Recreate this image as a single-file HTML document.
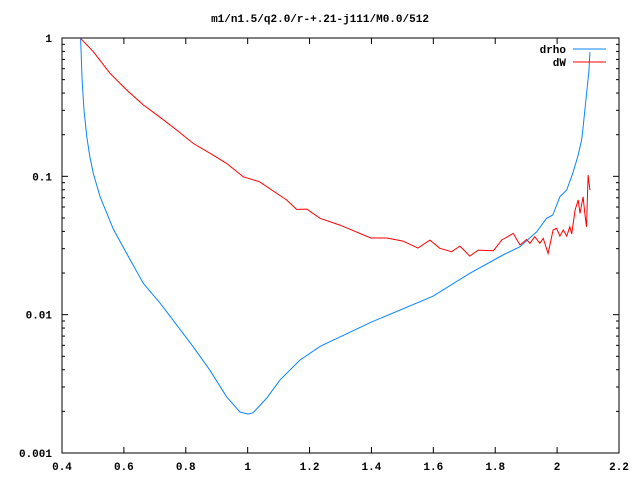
<!DOCTYPE html>
<html><head><meta charset="utf-8"><style>
html,body{margin:0;padding:0;background:#fff}
svg{display:block}
text{font-family:"Liberation Mono",monospace;font-size:11px;font-weight:bold;fill:#000}
</style></head><body>
<svg id="chart" width="640" height="480" viewBox="0 0 640 480" xmlns="http://www.w3.org/2000/svg">
<rect width="640" height="480" fill="#fff"/>
<text x="320" y="22" text-anchor="middle">m1/n1.5/q2.0/r-+.21-j111/M0.0/512</text>
<g id="axes"></g>
<g id="series"></g>
<g>
<text x="566" y="53" text-anchor="end">drho</text>
<line x1="573" y1="49" x2="606" y2="49" stroke="#0a84ff" stroke-width="1"/>
<text x="566" y="66" text-anchor="end">dW</text>
<line x1="573" y1="62" x2="606" y2="62" stroke="#ff0000" stroke-width="1"/>
</g>
</svg>
<script>
const xTicks = [0.4,0.6,0.8,1,1.2,1.4,1.6,1.8,2,2.2];
const xTickLabels = ["0.4","0.6","0.8","1","1.2","1.4","1.6","1.8","2","2.2"];
const yTicks = [1,0.1,0.01,0.001];
const yTickLabels = ["1","0.1","0.01","0.001"];
const drhoX = [0.460,0.465,0.471,0.480,0.490,0.501,0.523,0.566,0.609,0.663,0.717,0.771,0.824,0.878,0.932,0.975,1.002,1.018,1.061,1.104,1.169,1.236,1.400,1.599,1.718,1.825,1.880,1.934,1.966,1.986,2.009,2.031,2.051,2.067,2.079,2.083,2.093,2.103,2.106];
const drhoY = [1.0,0.497,0.301,0.193,0.139,0.105,0.0711,0.0414,0.0277,0.0168,0.0121,0.00841,0.00586,0.00397,0.00255,0.00198,0.00191,0.00196,0.00248,0.00336,0.00470,0.00593,0.00884,0.0136,0.0199,0.0270,0.0310,0.0397,0.0497,0.0525,0.0712,0.0796,0.106,0.139,0.183,0.216,0.356,0.587,0.792];
const dwX = [0.460,0.501,0.555,0.609,0.663,0.717,0.771,0.824,0.878,0.932,0.986,1.038,1.126,1.158,1.191,1.234,1.298,1.398,1.450,1.502,1.550,1.589,1.621,1.659,1.686,1.718,1.745,1.794,1.821,1.858,1.880,1.901,1.912,1.928,1.944,1.955,1.971,1.987,1.998,2.009,2.020,2.031,2.041,2.047,2.058,2.068,2.074,2.084,2.090,2.095,2.100,2.106];
const dwY = [0.995,0.796,0.556,0.421,0.328,0.267,0.216,0.173,0.147,0.124,0.0993,0.0914,0.0674,0.0577,0.0580,0.0497,0.0444,0.0358,0.0358,0.0340,0.0303,0.0346,0.0302,0.0285,0.0313,0.0265,0.0293,0.0290,0.0346,0.0387,0.0319,0.0350,0.0328,0.0366,0.0328,0.0356,0.0277,0.0409,0.0421,0.0370,0.0409,0.0370,0.0432,0.0383,0.0571,0.0674,0.0540,0.0711,0.0525,0.0432,0.102,0.0796];

const L=62,R=619,T=38,B=453, XMIN=0.4, XMAX=2.2;
function sx(v){return L+(v-XMIN)/(XMAX-XMIN)*(R-L);}
function sy(v){return T+(-Math.log10(v))/3*(B-T);}
const NS="http://www.w3.org/2000/svg";
const axes=document.getElementById('axes');
function mk(tag,attrs,parent){const e=document.createElementNS(NS,tag);for(const k in attrs)e.setAttribute(k,attrs[k]);parent.appendChild(e);return e;}
const frame=mk('rect',{x:L,y:T,width:R-L,height:B-T,fill:'none',stroke:'#000','stroke-width':1},axes);


xTicks.forEach((v,i)=>{
  const x=sx(v);
  const t1=mk('line',{x1:x,y1:B,x2:x,y2:B-6,stroke:'#000'},axes);
  
  
  const t2=mk('line',{x1:x,y1:T,x2:x,y2:T+6,stroke:'#000'},axes);
  
  
  const lb=mk('text',{x:x,y:B+17,'text-anchor':'middle'},axes);
  lb.textContent=xTickLabels[i];
  
  
});
yTicks.forEach((v,i)=>{
  const y=sy(v);
  const t1=mk('line',{x1:L,y1:y,x2:L+6,y2:y,stroke:'#000'},axes);
  
  
  const t2=mk('line',{x1:R,y1:y,x2:R-6,y2:y,stroke:'#000'},axes);
  
  
  const lb=mk('text',{x:L-10,y:y+4,'text-anchor':'end'},axes);
  lb.textContent=yTickLabels[i];
  
  
  if(i<yTicks.length-1){
    for(let m=2;m<=9;m++){
      const yy=sy(v/10*m);
      const a=mk('line',{x1:L,y1:yy,x2:L+3,y2:yy,stroke:'#000'},axes);
      
      
      const b=mk('line',{x1:R,y1:yy,x2:R-3,y2:yy,stroke:'#000'},axes);
      
      
    }
  }
});
const series=document.getElementById('series');
function line(xs,ys,color,name){
  const pts=xs.map((x,i)=>sx(x).toFixed(1)+','+sy(ys[i]).toFixed(1)).join(' ');
  const p=mk('polyline',{points:pts,fill:'none',stroke:color,'stroke-width':1},series);
  
  
}
line(drhoX,drhoY,'#0a84ff','drho-line');
line(dwX,dwY,'#ff0000','dw-line');
</script>
</body></html>
